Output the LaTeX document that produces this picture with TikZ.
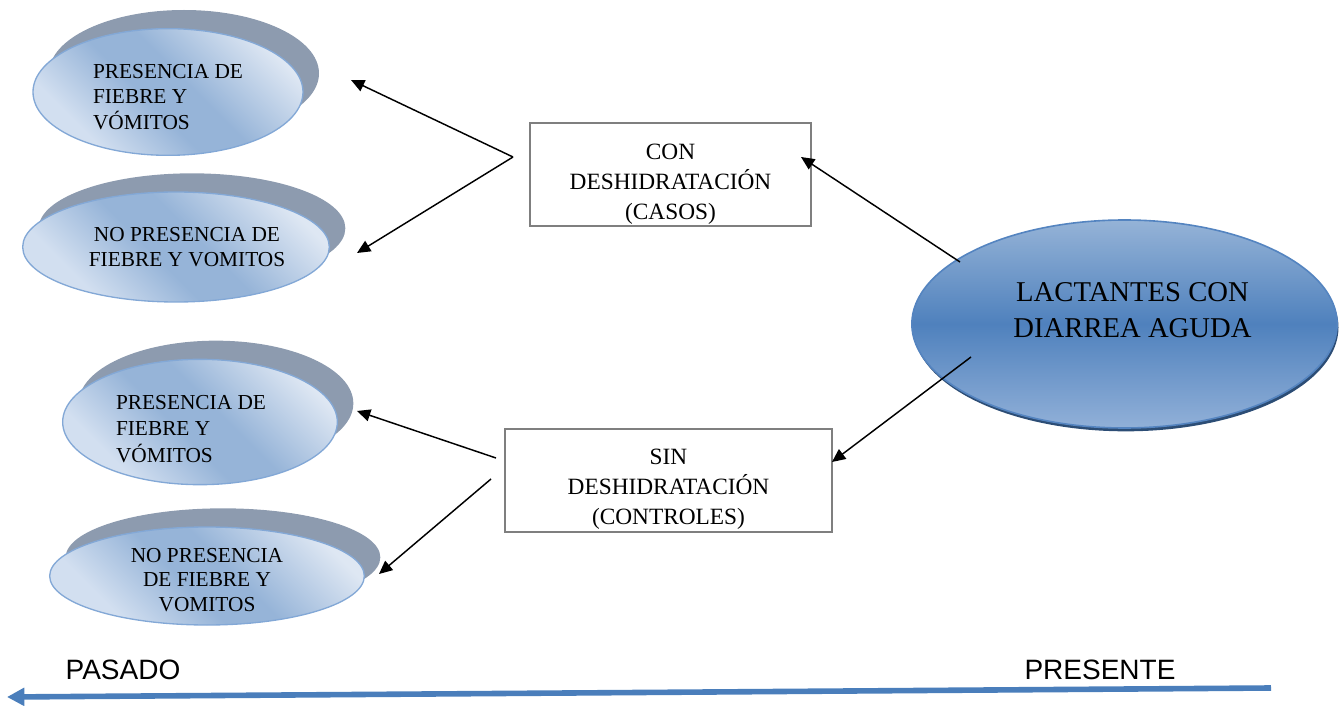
\documentclass[tikz,border=0pt]{standalone}
\usepackage{fontspec}
\setmainfont{Liberation Serif}
\setsansfont{Liberation Sans}
\usetikzlibrary{arrows.meta,shapes.geometric,shadows}

\definecolor{bubline}{RGB}{131,168,214}
\definecolor{bubleft}{RGB}{210,223,240}
\definecolor{bubmid}{RGB}{150,180,216}
\definecolor{bubright}{RGB}{222,231,243}
\definecolor{bubshadow}{RGB}{141,155,175}
\definecolor{bigtop}{RGB}{149,179,215}
\definecolor{bigmid}{RGB}{79,129,189}
\definecolor{bigbot}{RGB}{145,176,216}
\definecolor{bigline}{RGB}{84,132,192}
\definecolor{bigshadow}{RGB}{44,77,117}
\definecolor{boxgrey}{RGB}{127,127,127}
\definecolor{timeblue}{RGB}{74,126,187}

\pgfdeclarehorizontalshading{bubshade}{100bp}{color(0bp)=(bubleft); color(28bp)=(bubleft);
  color(45bp)=(bubmid); color(55bp)=(bubmid); color(76bp)=(bubright); color(100bp)=(bubright)}

\begin{document}
\begin{tikzpicture}[
  x=0.75pt, y=-0.75pt,
  bubble/.style={ellipse, draw=bubline, line width=1pt, inner sep=0pt,
    shade, shading=bubshade, shading angle=45,
    general shadow={fill=bubshadow, shadow xshift=12pt, shadow yshift=14pt}},
  bubtext/.style={font=\fontsize{16}{19}\selectfont},
  bigbubble/.style={ellipse, draw=bigline, line width=1.2pt, inner sep=0pt,
    top color=bigtop, bottom color=bigbot, middle color=bigmid,
    general shadow={fill=bigshadow, shadow xshift=1pt, shadow yshift=-2.5pt}},
  bigtext/.style={align=center, font=\fontsize{21.5}{27.5}\selectfont},
  caja/.style={draw=boxgrey, line width=1.5pt, fill=white, inner sep=0pt},
  cajatext/.style={align=center, font=\fontsize{17.5}{22.5}\selectfont},
  arr/.style={-{Triangle[length=10pt,width=9pt]}, line width=1.1pt},
  timeline/.style={-{Triangle[length=13pt,width=13pt]}, line width=4.2pt, draw=timeblue},
  zeit/.style={font=\sffamily\fontsize{21}{25}\selectfont}
]
\useasboundingbox (0,0) rectangle (1340,706);

% left side: results
\node[bubble, minimum width=202.5pt, minimum height=95pt] (fv1) at (168,92) {};
\node[bubtext, align=left] (fv1txt) at (168,97) {PRESENCIA DE\\FIEBRE Y\\VÓMITOS};
\node[bubble, minimum width=230pt, minimum height=82.5pt] (nofv1) at (176,247) {};
\node[bubtext, align=center] (nofv1txt) at (187,247) {NO PRESENCIA DE\\FIEBRE Y VOMITOS};
\node[bubble, minimum width=206pt, minimum height=94pt] (fv2) at (200,422) {};
\node[bubtext, align=left, font=\fontsize{16}{20}\selectfont] (fv2txt) at (191,429)
  {PRESENCIA DE\\FIEBRE Y\\VÓMITOS};
\node[bubble, minimum width=236pt, minimum height=73.5pt] (nofv2) at (207,576) {};
\node[bubtext, align=center, font=\fontsize{16}{18.4}\selectfont] (nofv2txt) at (207,580)
  {NO PRESENCIA\\DE FIEBRE Y\\VOMITOS};

% middle: groups
\node[caja, minimum width=211pt, minimum height=77pt] (con) at (670.5,174.5) {};
\node[cajatext] (contxt) at (670.5,184) {CON\\DESHIDRATACIÓN\\(CASOS)};
\node[caja, minimum width=245pt, minimum height=77pt] (sin) at (668.5,480.5) {};
\node[cajatext] (sintxt) at (668.5,489.5) {SIN\\DESHIDRATACIÓN\\(CONTROLES)};

% right: population
\node[bigbubble, minimum width=319pt, minimum height=156pt] (lact) at (1124.5,324) {};
\node[bigtext] (lacttxt) at (1132.5,310) {LACTANTES CON\\DIARREA AGUDA};

% arrow ends
\coordinate (conout) at (513,157);
\coordinate (fv1in) at (351,80);
\coordinate (nofv1in) at (357,253);
\coordinate (sinout1) at (496,458);
\coordinate (sinout2) at (491,479);
\coordinate (fv2in) at (357,411);
\coordinate (nofv2in) at (379,574);
\coordinate (lactout1) at (960,262);
\coordinate (lactout2) at (971,357);
\coordinate (conin) at (801,157);
\coordinate (sinin) at (832,462);

\draw[arr] (lactout1) -- (conin);
\draw[arr] (lactout2) -- (sinin);
\draw[arr] (conout) -- (fv1in);
\draw[arr] (conout) -- (nofv1in);
\draw[arr] (sinout1) -- (fv2in);
\draw[arr] (sinout2) -- (nofv2in);

% time axis
\node[zeit] (pasado) at (123,670) {PASADO};
\node[zeit] (presente) at (1100,670) {PRESENTE};
\coordinate (now) at (1271,688);
\coordinate (past) at (7,697);
\draw[timeline] (now) -- (past);
\end{tikzpicture}
\end{document}
